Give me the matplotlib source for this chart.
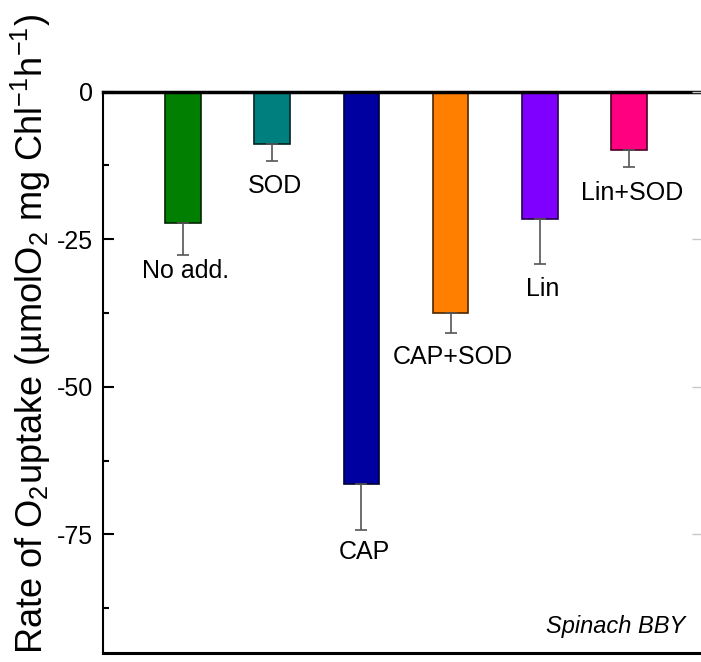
import matplotlib
matplotlib.use("Agg")
import matplotlib.pyplot as plt
import matplotlib.colors as mcolors

# ---- data ----
categories = ["No add.", "SOD", "CAP", "CAP+SOD", "Lin", "Lin+SOD"]
rates = [-22.3, -8.9, -66.5, -37.5, -21.5, -9.9]
errors = [5.4, 2.8, 7.7, 3.4, 7.7, 2.8]
label_y = [-30.4, -15.9, -77.9, -44.9, -33.5, -17.1]
bar_colors = ["#007F00", "#007F7F", "#0000A0", "#FF8000", "#8000FF", "#FF0080"]
yticks = [0, -25, -50, -75]
ytick_labels = ["0", "-25", "-50", "-75"]
minor_ticks = [-12.5, -37.5, -62.5, -87.5]
annotation = "Spinach BBY"

plt.rcParams["font.family"] = ["Liberation Sans", "DejaVu Sans"]
plt.rcParams["mathtext.fontset"] = "custom"
plt.rcParams["mathtext.rm"] = "Liberation Sans"
plt.rcParams["mathtext.it"] = "Liberation Sans:italic"

W, H = 701, 662
fig = plt.figure(figsize=(W / 100, H / 100), dpi=100)
ax = fig.add_axes([102.7 / W, (H - 652.5) / H, 600.3 / W, 560.8 / H])

x = list(range(1, len(categories) + 1))
edge = [tuple(c * 0.3 for c in mcolors.to_rgb(col)) for col in bar_colors]
ax.bar(x, rates, width=0.4, color=bar_colors, edgecolor=edge, linewidth=1.2, zorder=2)
ax.errorbar(x, rates, yerr=[errors, [0] * len(errors)], fmt="none",
            ecolor="#555555", elinewidth=1.2, capsize=4, capthick=1.2, zorder=3)

for xi, yi, lab in zip(x, label_y, categories):
    ax.text(xi + 0.03, yi, lab, ha="center", va="center", fontsize=18, color="black")

ax.text(6.633, -90.65, annotation, ha="right", va="center", fontsize=17,
        style="italic", color="black")

ax.set_xlim(0.1, 6.83)
ax.set_ylim(-95, 0)
ax.set_xticks([])
ax.set_yticks(yticks)
ax.set_yticklabels(ytick_labels, fontsize=18)
ax.set_yticks(minor_ticks, minor=True)
ax.tick_params(axis="y", which="major", direction="in", length=8, width=1.5, pad=7)
ax.tick_params(axis="y", which="minor", direction="in", length=4, width=1.5)

ax.spines["top"].set_linewidth(2.5)
ax.spines["left"].set_linewidth(1.5)
ax.spines["bottom"].set_linewidth(2.2)
ax.spines["right"].set_linewidth(1.5)

# faint right-side ticks
ax2 = ax.twinx()
ax2.set_ylim(ax.get_ylim())
ax2.set_yticks(yticks)
ax2.tick_params(axis="y", direction="in", length=8, width=1.0, color="#c8c8c8",
                labelright=False)
for s in ax2.spines.values():
    s.set_visible(False)

fig.text(31 / W, 1 - 14 / H,
         r"Rate of O$_2$uptake (µmolO$_2$ mg Chl$^{-1}$h$^{-1}$)",
         rotation=90, ha="center", va="top", fontsize=26)

fig.savefig("out.png", dpi=100)
